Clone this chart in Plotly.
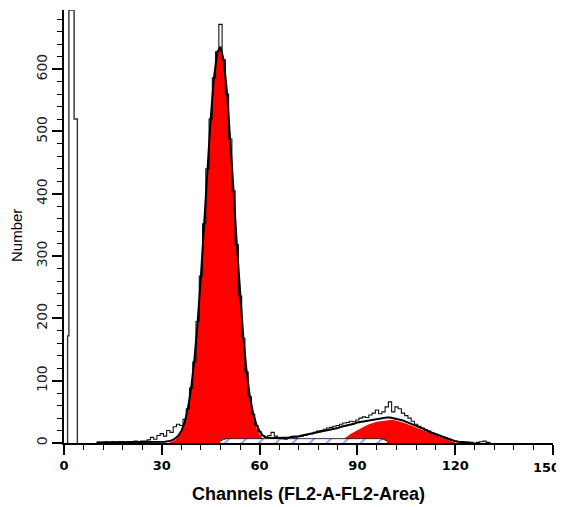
import plotly.graph_objects as go

# ---------------- data ----------------
# debris / off-scale bar near channel 0 : bin edges and counts
debris_edges = [1.1, 1.5, 3.1, 4.1]
debris_counts = [172, 695, 520]

# raw histogram, channels 10..131
raw_start = 10
raw_counts = [1, 1, 1, 2, 1, 2, 1, 2, 2, 1, 2, 2, 3, 2, 3, 3,            # 10-25
              5, 9, 6, 12, 15, 11, 20, 17, 26, 30, 28, 38,              # 26-37
              55, 88, 130, 195, 268, 352, 440, 520, 586, 628, 672, 615,  # 38-49
              560, 488, 405, 318, 236, 168, 114, 74, 46, 28, 18, 12,     # 50-61
              9, 12, 17, 11, 8, 7, 6, 8, 9, 8, 10, 11, 12,               # 62-74
              14, 15, 17, 19, 20, 22, 24, 25, 27, 28, 30,                # 75-85
              32, 33, 35, 34, 37, 40, 42, 41, 45, 48, 53, 47, 50, 58,    # 86-99
              66, 50, 58, 55, 48, 44, 40, 35, 30, 27, 24,                # 100-110
              21, 19, 16, 14, 12, 10, 8, 6, 4, 3, 2, 2, 1, 1, 1,         # 111-125
              0, 1, 2, 3, 1, 0]                                          # 126-131

# G1 component of the fit, channels 32..64
g1_start = 32
g1_counts = [0.4, 1.5, 4.6, 9, 17, 31, 53, 86, 132, 192, 266, 350, 437,
             519, 584, 625, 634, 612, 560, 487, 403, 316, 235, 166, 112,
             71, 43, 25, 14, 7, 3.5, 1.5, 0.6]

# G2 component of the fit, channels 84..120
g2_start = 84
g2_counts = [1, 4, 7, 11, 15, 18, 21, 24, 27, 29, 31, 33, 34, 35, 36,
             37, 37, 37, 36, 35, 33, 31, 29, 27, 24, 22, 20, 18, 16, 14,
             12, 10, 8, 6, 4, 2, 1]

# S-phase component, channels 48..99
s_start = 48
s_counts = [4, 6, 7, 7, 7, 7, 7, 7, 7, 7, 7, 7, 7, 7, 7, 7, 7, 7, 7, 7,
            7, 7, 7, 7, 7, 7, 7, 7, 7, 7, 7, 7, 7, 7, 7, 7, 7, 7, 7, 7,
            7, 7, 7, 7, 7, 7, 7, 7, 7, 7, 6, 4]

# total model fit, channels 10..125
fit_start = 10
fit_counts = [1, 1, 1, 1, 1, 1, 1, 1, 1, 1, 1, 1, 1, 1, 1, 1, 1, 1, 1, 1,  # 10-29
              2, 2, 3, 4, 7, 11, 19, 33, 55,                               # 30-38
              88, 134, 194, 268, 352, 439, 521, 586, 627, 636, 614,        # 39-49
              563, 490, 406, 320, 239, 170, 116, 75, 48, 30, 19,           # 50-60
              12, 9, 8, 8, 8, 8, 8, 9, 9, 10, 10, 11, 12, 13,              # 61-74
              14, 15, 16, 18, 19, 20, 21, 22, 23, 24, 26,                  # 75-85
              27, 28, 30, 31, 33, 34, 35, 36, 37, 38, 39, 40, 41, 41,      # 86-99
              41, 40, 39, 38, 36, 34, 32, 30, 27, 25, 23,                  # 100-110
              21, 18, 16, 14, 12, 10, 8, 6, 4, 3, 2, 2, 1, 1, 0]           # 111-125

x_ticks = [0, 30, 60, 90, 120, 150]
y_ticks = [0, 100, 200, 300, 400, 500, 600]


def chans(start, vals):
    return list(range(start, start + len(vals)))


def step_path(edges, counts):
    xs, ys = [edges[0]], [0]
    for i, c in enumerate(counts):
        xs += [edges[i], edges[i + 1]]
        ys += [c, c]
    xs.append(edges[-1])
    ys.append(0)
    return xs, ys


fig = go.Figure()

# red G1 / G2 fills
for st, vals in [(g1_start, g1_counts), (g2_start, g2_counts)]:
    fig.add_trace(go.Scatter(x=chans(st, vals), y=vals, mode="lines",
                             line=dict(color="rgba(0,0,0,0)", width=0, shape="linear"),
                             fill="tozeroy", fillcolor="#ff0000",
                             hoverinfo="skip", showlegend=False))

# S-phase hatched band
fig.add_trace(go.Scatter(x=chans(s_start, s_counts), y=s_counts, mode="lines",
                         line=dict(color="#222222", width=1, shape="hvh"),
                         fill="tozeroy", fillcolor="white",
                         fillpattern=dict(shape="/", fgcolor="#1a1aff", bgcolor="white",
                                          size=12, solidity=0.15),
                         hoverinfo="skip", showlegend=False))

# raw histogram
fig.add_trace(go.Scatter(x=chans(raw_start, raw_counts), y=raw_counts, mode="lines",
                         line=dict(color="#111111", width=1.1, shape="hvh"),
                         hoverinfo="skip", showlegend=False))

# total fit line
fig.add_trace(go.Scatter(x=chans(fit_start, fit_counts), y=fit_counts, mode="lines",
                         line=dict(color="#000000", width=2, shape="linear"),
                         hoverinfo="skip", showlegend=False))

# debris bar
dx, dy = step_path(debris_edges, debris_counts)
fig.add_trace(go.Scatter(x=dx, y=dy, mode="lines",
                         line=dict(color="#333333", width=1.4),
                         hoverinfo="skip", showlegend=False))

title_font = "Liberation Sans, Arial, sans-serif"
tick_font = "DejaVu Sans, sans-serif"

# last x tick label is placed as an annotation so it stays inside the page
x_ticktext = [str(v) for v in x_ticks[:-1]] + [""]

# the page body adds an 8px offset, so the figure is 8px smaller on each axis
fig.update_layout(
    width=556, height=499,
    margin=dict(l=56, r=11, t=2, b=64),
    paper_bgcolor="white", plot_bgcolor="white",
    xaxis=dict(range=[0, 150], tickvals=x_ticks, ticktext=x_ticktext,
               showgrid=False, zeroline=False,
               automargin=False, ticklabeloverflow="allow",
               showline=True, linecolor="black", linewidth=1.5,
               ticks="outside", ticklen=10, tickwidth=1.5, tickcolor="black",
               minor=dict(dtick=6, ticks="outside", ticklen=5, tickwidth=1.2,
                          tickcolor="black", showgrid=False),
               tickfont=dict(family=tick_font, size=13, color="black", weight="bold")),
    yaxis=dict(range=[0, 695], tickvals=y_ticks, showgrid=False, zeroline=False,
               automargin=False, ticklabeloverflow="allow",
               showline=True, linecolor="black", linewidth=1.5,
               ticks="outside", ticklen=10, tickwidth=1.5, tickcolor="black",
               tickangle=-90,
               minor=dict(dtick=20, ticks="outside", ticklen=5, tickwidth=1.2,
                          tickcolor="black", showgrid=False),
               tickfont=dict(family=tick_font, size=14, color="#222222")),
    annotations=[
        dict(text=str(x_ticks[-1]), xref="x", yref="paper", x=x_ticks[-1], y=0,
             xanchor="right", yanchor="middle", xshift=9, yshift=-24,
             showarrow=False,
             font=dict(family=tick_font, size=13, color="black", weight="bold")),
        dict(text="Channels (FL2-A-FL2-Area)", xref="paper", yref="paper",
             x=0.5, y=0, yshift=-51, xanchor="center", yanchor="middle",
             showarrow=False,
             font=dict(family=title_font, size=18, color="black", weight="bold")),
        dict(text="Number", xref="paper", yref="paper", x=0, xshift=-48,
             y=0.478, xanchor="center", yanchor="middle", textangle=-90,
             showarrow=False,
             font=dict(family=title_font, size=15, color="black")),
    ],
)

fig.write_html("out.html")
